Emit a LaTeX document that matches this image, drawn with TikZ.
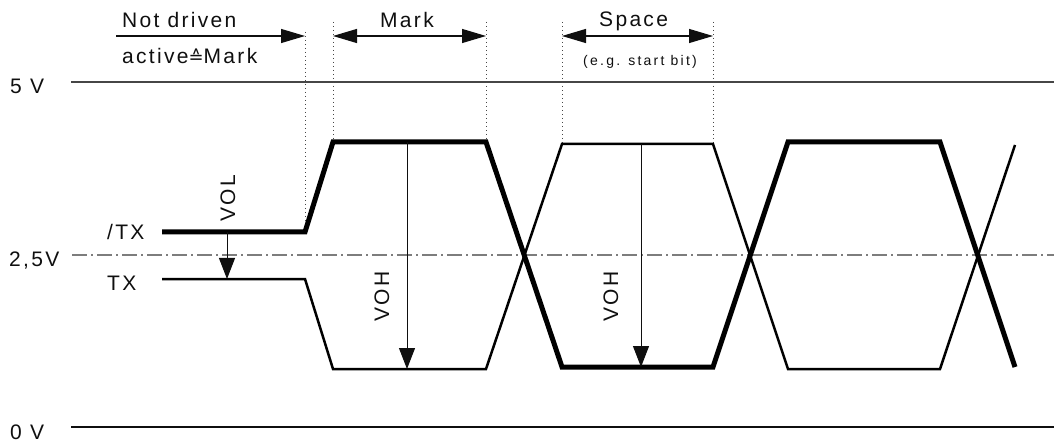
\documentclass[tikz,border=0pt]{standalone}
\usepackage{fontspec}
\usepackage{tikz}
\usetikzlibrary{arrows.meta}
\setmainfont{Liberation Sans}
\newfontfamily\lblfont[LetterSpace=11]{Liberation Sans}
\newfontfamily\notefont[LetterSpace=16]{Liberation Sans}
\newfontfamily\symfont{DejaVu Sans}
\definecolor{tdink}{RGB}{15,15,15}
\definecolor{tdrail}{RGB}{70,70,70}
\definecolor{tdmid}{RGB}{125,125,125}
\definecolor{tdguide}{RGB}{70,70,70}
\tikzset{
  lbl/.style={font=\fontsize{21}{25}\selectfont\lblfont, text=tdink, inner sep=0pt},
  note/.style={font=\fontsize{14}{17}\selectfont\notefont, text=tdink, inner sep=0pt},
  rail/.style={draw=tdrail, line width=1.3pt},
  mid/.style={draw=tdmid, line width=1.4pt, dash pattern=on 15pt off 4pt on 2pt off 4pt},
  guide/.style={draw=tdguide, line width=1pt, dash pattern=on 1.5pt off 2.5pt},
  sighi/.style={draw=black, line width=5pt},
  siglo/.style={draw=black, line width=2.5pt},
  arr/.style={-{Triangle[length=24pt,width=14pt]}, draw=tdink, line width=1.2pt},
  darr/.style={arr, {Triangle[length=24pt,width=14pt]}-{Triangle[length=24pt,width=14pt]}},
  lvl/.style={-{Triangle[length=21pt,width=16pt]}, draw=tdink, line width=1pt}
}
\begin{document}
\begin{tikzpicture}[x=1pt, y=-1pt]
  \useasboundingbox (0,0) rectangle (1054,446);
  \coordinate (hiA) at (162,232);
  \coordinate (hiB) at (305,232);
  \coordinate (loA) at (162,279);
  \coordinate (loB) at (305,279);
  \coordinate (mk1) at (333,142);
  \coordinate (mk2) at (486,142);
  \coordinate (sp1) at (562,144);
  \coordinate (sp2) at (713,144);

  \draw[rail] (71,82) -- (1054,82);
  \draw[rail, draw=tdink] (71,427) -- (1054,427);
  \draw[mid] (72,255) -- (1054,255);

  \draw[guide] (305,32) -- (hiB);
  \draw[guide] (333,22) -- (mk1);
  \draw[guide] (486,22) -- (mk2);
  \draw[guide] (562,22) -- (sp1);
  \draw[guide] (713,22) -- (sp2);

  \draw[arr] (116,36) -- (305,36);
  \draw[darr] (333,36) -- (486,36);
  \draw[darr] (562,36) -- (713,36);

  \draw[siglo] (loA) -- (loB) -- (333,369) -- (486,369) -- (sp1) -- (sp2)
    -- (788,369) -- (940,369) -- (1015,145);
  \draw[sighi] (hiA) -- (hiB) -- (mk1) -- (mk2) -- (562,367) -- (713,367)
    -- (788,142) -- (940,142) -- (1015,367);

  \draw[lvl] (227,232) -- (227,279);
  \draw[lvl] (407,142) -- (407,369);
  \draw[lvl] (641,144) -- (641,367);

  \node[lbl, anchor=base west] (notdrv) at (122,28) {Not driven};
  \node[lbl, anchor=base west] (actmk) at (122,64)
    {active{\symfont\fontsize{18}{20}\selectfont ≙}Mark};
  \node[lbl, anchor=base west] (mark) at (380,28) {Mark};
  \node[lbl, anchor=base west] (space) at (599,27) {Space};
  \node[note, anchor=base west] (start) at (583,66) {(e.g. start bit)};
  \node[lbl, anchor=base west] (v5) at (10,94) {5 V};
  \node[lbl, anchor=base west] (v25) at (9,266) {2,5V};
  \node[lbl, anchor=base west] (v0) at (10,439) {0 V};
  \node[lbl, anchor=base west] (ntx) at (107,240) {/TX};
  \node[lbl, anchor=base west] (tx) at (107,290) {TX};
  \node[lbl, rotate=90, anchor=base west] (vol) at (235,222) {VOL};
  \node[lbl, rotate=90, anchor=base west] (voh1) at (389,322) {VOH};
  \node[lbl, rotate=90, anchor=base west] (voh2) at (618,322) {VOH};
\end{tikzpicture}
\end{document}
